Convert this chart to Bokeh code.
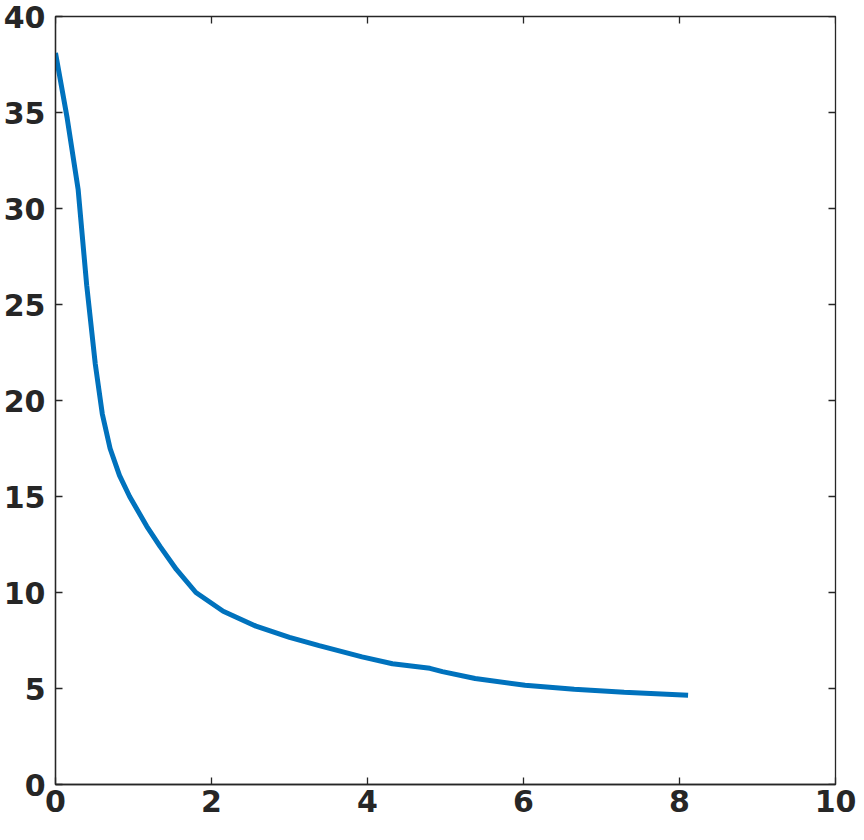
import math
from bokeh.plotting import figure
from bokeh.models import LinearAxis, FixedTicker, Range1d
from bokeh.embed import file_html
from bokeh.resources import INLINE

x_vals = [0, 0.15, 0.29, 0.40, 0.51, 0.60, 0.70, 0.82, 0.95, 1.17, 1.34, 1.55,
          1.80, 2.15, 2.57, 3.00, 3.38, 3.93, 4.32, 4.80, 4.96, 5.38, 6.02,
          6.65, 7.29, 8.11]
y_vals = [38.1, 34.7, 31.0, 26.0, 21.9, 19.3, 17.5, 16.1, 15.0, 13.45, 12.4, 11.2,
          10.0, 9.02, 8.25, 7.66, 7.23, 6.65, 6.29, 6.05, 5.88, 5.52, 5.17,
          4.96, 4.81, 4.65]
x_ticks = [0, 2, 4, 6, 8, 10]
y_ticks = [0, 5, 10, 15, 20, 25, 30, 35, 40]

AX = "#262626"
FONT = "DejaVu Sans"
X_MIN, X_MAX = 0, 10
Y_MIN, Y_MAX = 0, 40

p = figure(width=856, height=824, output_backend="svg", toolbar_location=None,
           x_range=Range1d(X_MIN, X_MAX), y_range=Range1d(Y_MIN, Y_MAX),
           x_axis_location=None, y_axis_location=None,
           min_border_left=52, min_border_right=21, min_border_top=16,
           min_border_bottom=40)
p.xgrid.visible = False
p.ygrid.visible = False
p.outline_line_color = AX
p.outline_line_width = 1.3
p.background_fill_color = "white"
p.border_fill_color = "white"

def style(ax, ticks, standoff):
    ax.ticker = FixedTicker(ticks=ticks)
    ax.axis_line_color = AX
    ax.axis_line_width = 1.3
    ax.major_tick_line_color = AX
    ax.major_tick_line_width = 1.3
    ax.major_tick_in = 7
    ax.major_tick_out = 0
    ax.minor_tick_line_color = None
    ax.major_label_text_font = FONT
    ax.major_label_text_font_style = "bold"
    ax.major_label_text_font_size = "30px"
    ax.major_label_text_color = AX
    ax.major_label_standoff = standoff

bottom = LinearAxis(); style(bottom, x_ticks, 5)
left = LinearAxis(); style(left, y_ticks, 10)
p.add_layout(bottom, "below")
p.add_layout(left, "left")

# mirrored inward ticks on top and right edges (box axes)
p.ray(x=x_ticks, y=[Y_MAX] * len(x_ticks), length=7, length_units="screen",
      angle=-math.pi / 2, line_color=AX, line_width=1.3)
p.ray(x=[X_MAX] * len(y_ticks), y=y_ticks, length=7, length_units="screen",
      angle=math.pi, line_color=AX, line_width=1.3)

p.line(x_vals, y_vals, line_color="#0072BD", line_width=5)

open("out.html", "w").write(file_html(p, INLINE))
